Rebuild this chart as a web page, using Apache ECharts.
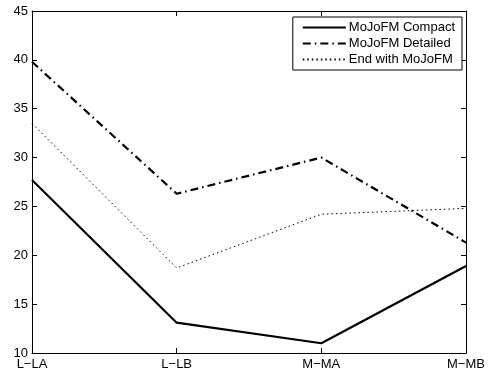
<!DOCTYPE html>
<html>
<head>
<meta charset="utf-8">
<script src="https://cdn.jsdelivr.net/npm/echarts@6/dist/echarts.min.js"></script>
<style>
  html, body { margin: 0; padding: 0; background: #fff; }
  #chart { width: 493px; height: 379px; }
</style>
</head>
<body>
<div id="chart"></div>
<script>
// Pairing categories along the x axis
const categories = ['L\u2212LA', 'L\u2212LB', 'M\u2212MA', 'M\u2212MB'];

// MoJoFM scores per pairing
const compactValues  = [27.7, 13.1, 11.0, 18.9];
const detailedValues = [39.8, 26.3, 30.0, 21.3];
const endValues      = [33.5, 18.7, 24.2, 24.8];

const seriesNames = ['MoJoFM Compact', 'MoJoFM Detailed', 'End with MoJoFM'];

const font = 'Liberation Sans, Arial, Helvetica, sans-serif';

const chart = echarts.init(document.getElementById('chart'), null, { renderer: 'canvas' });

const boxAxisLine = { show: true, lineStyle: { color: '#000', width: 1 } };
const insideTick = { show: true, inside: true, length: 5, lineStyle: { color: '#000', width: 1 } };

chart.setOption({
  animation: false,
  backgroundColor: '#fff',
  grid: { left: 32, right: 27, top: 11, bottom: 26, containLabel: false },
  legend: {
    orient: 'vertical',
    right: 31,
    top: 17,
    backgroundColor: '#fff',
    borderColor: '#000',
    borderWidth: 1,
    borderRadius: 0,
    padding: [4, 7, 4, 9],
    itemWidth: 43,
    itemHeight: 14,
    itemGap: 3,
    itemStyle: { opacity: 0 },
    textStyle: { fontFamily: font, fontSize: 13, color: '#000', padding: [0, 0, 0, -2] },
    data: seriesNames
  },
  xAxis: [
    {
      type: 'category',
      data: categories,
      boundaryGap: false,
      axisLine: boxAxisLine,
      axisTick: insideTick,
      axisLabel: { color: '#000', fontFamily: font, fontSize: 13, margin: 5 },
      splitLine: { show: false }
    },
    {
      type: 'category',
      data: categories,
      boundaryGap: false,
      position: 'top',
      axisLine: boxAxisLine,
      axisTick: insideTick,
      axisLabel: { show: false },
      splitLine: { show: false }
    }
  ],
  yAxis: [
    {
      type: 'value',
      min: 10,
      max: 45,
      interval: 5,
      axisLine: boxAxisLine,
      axisTick: insideTick,
      axisLabel: { color: '#000', fontFamily: font, fontSize: 13, margin: 4 },
      splitLine: { show: false }
    },
    {
      type: 'value',
      min: 10,
      max: 45,
      interval: 5,
      position: 'right',
      axisLine: boxAxisLine,
      axisTick: insideTick,
      axisLabel: { show: false },
      splitLine: { show: false }
    }
  ],
  series: [
    {
      name: seriesNames[0],
      type: 'line',
      data: compactValues,
      symbol: 'none',
      lineStyle: { color: '#000', width: 2.2, type: 'solid' },
      itemStyle: { color: '#000' }
    },
    {
      name: seriesNames[1],
      type: 'line',
      data: detailedValues,
      symbol: 'none',
      lineStyle: { color: '#000', width: 2.2, type: [8, 4, 1.5, 4] },
      itemStyle: { color: '#000' }
    },
    {
      name: seriesNames[2],
      type: 'line',
      data: endValues,
      symbol: 'none',
      lineStyle: { color: '#000', width: 1, type: [1.5, 3] },
      itemStyle: { color: '#000' }
    }
  ]
});
</script>
</body>
</html>
